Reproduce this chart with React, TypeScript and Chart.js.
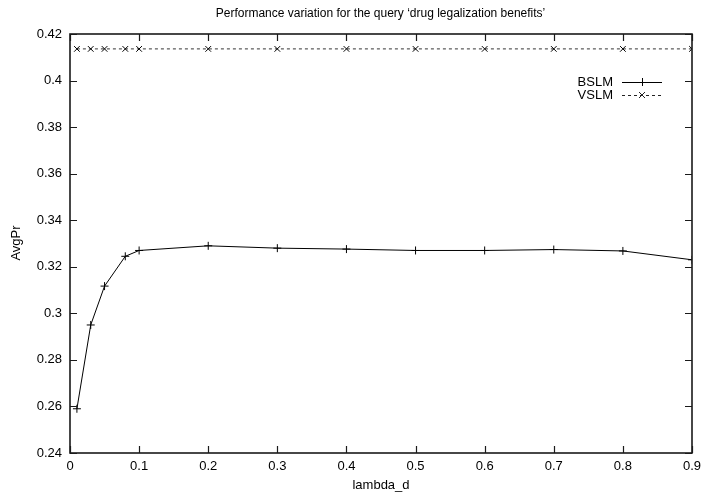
import React, { useEffect, useRef } from "react";
import { Chart, registerables } from "chart.js";

Chart.register(...registerables);

const chartTitle = "Performance variation for the query \u2018drug legalization benefits\u2019";
const xAxisTitle = "lambda_d";
const yAxisTitle = "AvgPr";
const lambdaValues = [0.01, 0.03, 0.05, 0.08, 0.1, 0.2, 0.3, 0.4, 0.5, 0.6, 0.7, 0.8, 0.9];
const bslmValues = [0.259, 0.295, 0.3117, 0.3245, 0.327, 0.329, 0.328, 0.3276, 0.327, 0.327, 0.3274, 0.3268, 0.323];
const vslmValues = [0.4136, 0.4136, 0.4136, 0.4136, 0.4136, 0.4136, 0.4136, 0.4136, 0.4136, 0.4136, 0.4136, 0.4136, 0.4136];
const seriesNames = ["BSLM", "VSLM"];

const FONT = "'Liberation Sans', Arial, Helvetica, sans-serif";

const framePlugin = {
  id: "gnuplotFrame",
  afterDatasetsDraw(chart: any) {
    const { ctx, chartArea } = chart;
    const { left, right, top, bottom } = chartArea;
    const xs = chart.scales.x;
    const ys = chart.scales.y;
    ctx.save();
    // frame
    ctx.strokeStyle = "#1a1a1a";
    ctx.lineWidth = 1.6;
    ctx.strokeRect(left, top, right - left, bottom - top);
    // inward ticks
    const tl = 7;
    ctx.lineWidth = 1.2;
    ctx.beginPath();
    xs.ticks.forEach((t: any) => {
      const px = Math.round(xs.getPixelForValue(t.value)) + 0.5;
      ctx.moveTo(px, bottom);
      ctx.lineTo(px, bottom - tl);
      ctx.moveTo(px, top);
      ctx.lineTo(px, top + tl);
    });
    ys.ticks.forEach((t: any) => {
      const py = Math.round(ys.getPixelForValue(t.value)) + 0.5;
      ctx.moveTo(left, py);
      ctx.lineTo(left + tl, py);
      ctx.moveTo(right, py);
      ctx.lineTo(right - tl, py);
    });
    ctx.stroke();

    // title and axis titles
    ctx.fillStyle = "#000";
    ctx.font = `12px ${FONT}`;
    ctx.textAlign = "center";
    ctx.textBaseline = "middle";
    ctx.fillText(chartTitle, 380.5, 14);
    ctx.font = `13px ${FONT}`;
    ctx.fillText(xAxisTitle, 381, 485);
    ctx.save();
    ctx.translate(16, 243);
    ctx.rotate(-Math.PI / 2);
    ctx.fillText(yAxisTitle, 0, 0);
    ctx.restore();

    // legend
    const legendY = [82, 95];
    const textRight = 613;
    const sx0 = 622;
    const sx1 = 662;
    const mx = 642;
    ctx.textAlign = "right";
    seriesNames.forEach((name, i) => {
      const y = legendY[i];
      ctx.fillStyle = "#000";
      ctx.fillText(name, textRight, y);
      ctx.strokeStyle = i === 0 ? "#000" : "#222";
      ctx.lineWidth = 1;
      ctx.setLineDash(i === 0 ? [] : [3, 3]);
      ctx.beginPath();
      ctx.moveTo(sx0, y + 0.5);
      ctx.lineTo(sx1, y + 0.5);
      ctx.stroke();
      ctx.setLineDash([]);
      ctx.beginPath();
      if (i === 0) {
        ctx.moveTo(mx - 4, y + 0.5);
        ctx.lineTo(mx + 4, y + 0.5);
        ctx.moveTo(mx + 0.5, y - 4);
        ctx.lineTo(mx + 0.5, y + 4);
      } else {
        ctx.moveTo(mx - 3, y - 3);
        ctx.lineTo(mx + 3, y + 3);
        ctx.moveTo(mx - 3, y + 3);
        ctx.lineTo(mx + 3, y - 3);
      }
      ctx.stroke();
    });
    ctx.restore();
  },
};

export default function App() {
  const canvasRef = useRef<HTMLCanvasElement | null>(null);

  useEffect(() => {
    const canvas = canvasRef.current;
    if (!canvas) return;
    const fmt = (digits: number) => (v: any) => String(Number(Number(v).toFixed(digits)));
    const chart = new Chart(canvas, {
      type: "line",
      data: {
        datasets: [
          {
            label: seriesNames[0],
            data: lambdaValues.map((x, i) => ({ x, y: bslmValues[i] })),
            borderColor: "#000",
            borderWidth: 1,
            pointStyle: "cross",
            pointRadius: 4,
            pointBorderColor: "#000",
            pointBorderWidth: 1,
            tension: 0,
            fill: false,
          },
          {
            label: seriesNames[1],
            data: lambdaValues.map((x, i) => ({ x, y: vslmValues[i] })),
            borderColor: "#333",
            borderWidth: 1,
            borderDash: [3, 3],
            pointStyle: "crossRot",
            pointRadius: 4,
            pointBorderColor: "#000",
            pointBorderWidth: 1,
            tension: 0,
            fill: false,
          },
        ],
      },
      options: {
        animation: false,
        responsive: false,
        maintainAspectRatio: false,
        devicePixelRatio: 1,
        layout: { autoPadding: false, padding: { top: 34, right: 11, left: 0, bottom: 0 } },
        plugins: {
          legend: { display: false },
          title: { display: false },
          tooltip: { enabled: false },
        },
        scales: {
          x: {
            type: "linear",
            min: 0,
            max: 0.9,
            grid: { display: false, drawTicks: false },
            border: { display: false },
            ticks: {
              stepSize: 0.1,
              color: "#000",
              padding: 6,
              maxRotation: 0,
              font: { family: FONT, size: 13 },
              callback: fmt(1),
            },
            afterFit: (s: any) => {
              s.height = 44;
              s.paddingLeft = 0;
              s.paddingRight = 0;
            },
          },
          y: {
            type: "linear",
            min: 0.24,
            max: 0.42,
            grid: { display: false, drawTicks: false },
            border: { display: false },
            ticks: {
              stepSize: 0.02,
              color: "#000",
              padding: 8,
              font: { family: FONT, size: 13 },
              callback: fmt(2),
            },
            afterFit: (s: any) => {
              s.width = 70;
              s.paddingTop = 0;
              s.paddingBottom = 0;
            },
          },
        },
      },
      plugins: [framePlugin],
    } as any);
    return () => chart.destroy();
  }, []);

  return (
    <div style={{ position: "absolute", left: 0, top: 0, width: 703, height: 497, background: "#fff" }}>
      <canvas ref={canvasRef} width={703} height={497} style={{ display: "block", width: 703, height: 497 }} />
    </div>
  );
}
